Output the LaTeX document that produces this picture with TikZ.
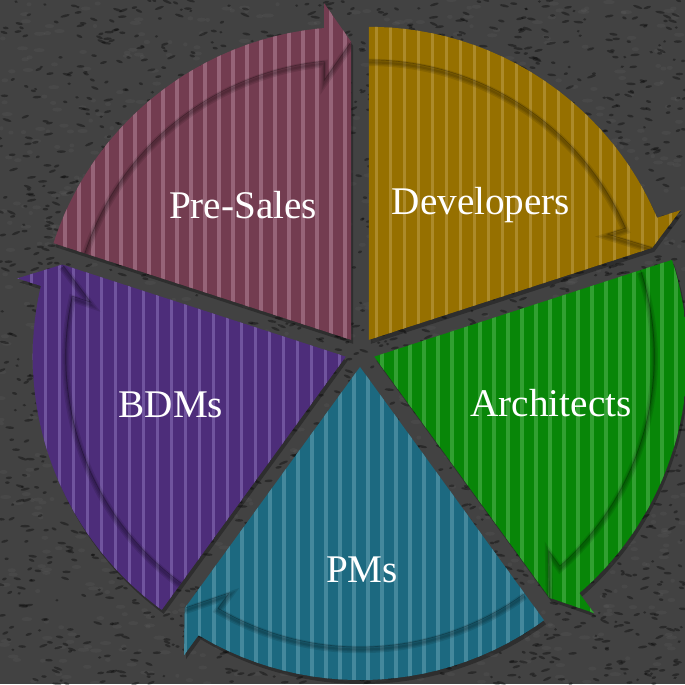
\documentclass[tikz,border=0pt]{standalone}
\usepackage{fontspec}
\setmainfont{Liberation Serif}

% colours of the segments
\definecolor{granite}{RGB}{66,66,66}
\definecolor{devgold}{RGB}{150,112,0}
\definecolor{devstripe}{RGB}{172,138,42}
\definecolor{archgreen}{RGB}{8,134,8}
\definecolor{archstripe}{RGB}{50,160,50}
\definecolor{pmteal}{RGB}{28,105,128}
\definecolor{pmstripe}{RGB}{68,136,156}
\definecolor{bdmpurple}{RGB}{77,45,122}
\definecolor{bdmstripe}{RGB}{112,84,158}
\definecolor{presmauve}{RGB}{115,60,80}
\definecolor{presstripe}{RGB}{150,100,120}

% outline of one segment, #1 = angle of the arrow tip
\newcommand{\segoutline}[1]{(0,0) -- ({#1+72}:313)
  arc[start angle={#1+72}, end angle={#1+4.95}, radius=313]
  -- ({#1+4.59}:337.6) -- (#1:298) -- cycle}

% inner edge of the arrow shaft and head
\newcommand{\shaftedge}[1]{({#1+72}:280)
  arc[start angle={#1+72}, end angle={#1+5.53}, radius=280]
  -- ({#1+5.94}:260.9) -- (#1:298)}

% one segment: #1 = tip angle, #2 = fill, #3 = stripes
\newcommand{\cyclesegment}[3]{%
  \begin{scope}[shift={({#1+36}:15)}]
    % drop shadow
    \fill[black,opacity=0.3,shift={(2,-4)}] \segoutline{#1};
    \begin{scope}
      \clip \segoutline{#1};
      \fill[#2] (-400,-400) rectangle (400,400);
      \foreach \x in {-400,-386,...,400}
        \fill[#3] (\x,-400) rectangle ++(3.5,800);
      % soft shadow under the arrow shaft
      \foreach \w in {1.2pt,2.6pt,4.2pt}
        \draw[black,opacity=0.1,line width=\w,shift={(0,-2.5)}] \shaftedge{#1};
      \draw[black,opacity=0.25,line width=0.4pt] \shaftedge{#1};
    \end{scope}
  \end{scope}}

\begin{document}
\begin{tikzpicture}[x=0.02cm,y=0.02cm,
    segtext/.style={text=white,font=\fontsize{22.3}{25}\selectfont}]
  \useasboundingbox (-360,-332) rectangle (325,352);

  % granite background
  \fill[granite] (-360,-332) rectangle (325,352);
  \pgfmathsetseed{42}
  \foreach \i in {1,...,1200}{
    \pgfmathsetmacro{\gx}{-360+685*rnd}
    \pgfmathsetmacro{\gy}{-332+684*rnd}
    \pgfmathsetmacro{\gw}{2+4*rnd}
    \fill[white,opacity=0.035] (\gx,\gy) ellipse[x radius=\gw, y radius=2];
  }
  \foreach \i in {1,...,2400}{
    \pgfmathsetmacro{\gx}{-360+685*rnd}
    \pgfmathsetmacro{\gy}{-332+684*rnd}
    \pgfmathsetmacro{\gw}{1.5+3.5*rnd}
    \pgfmathsetmacro{\ga}{50*rnd-25}
    \fill[black,opacity=0.35,rotate around={\ga:(\gx,\gy)}]
      (\gx,\gy) ellipse[x radius=\gw, y radius=1.3];
  }

  % the five segments (tip angle / fill / stripes)
  \foreach \tip/\base/\stripes in {18/devgold/devstripe, -54/archgreen/archstripe,
      234/pmteal/pmstripe, 162/bdmpurple/bdmstripe, 90/presmauve/presstripe}
    {\cyclesegment{\tip}{\base}{\stripes}}

  % labels
  \node[segtext] (developers) at (121,147) {Developers};
  \node[segtext] (architects) at (191,-51) {Architects};
  \node[segtext] (pms) at (2,-218) {PMs};
  \node[segtext] (bdms) at (-189,-53) {BDMs};
  \node[segtext] (presales) at (-117,147) {Pre-Sales};
\end{tikzpicture}
\end{document}
